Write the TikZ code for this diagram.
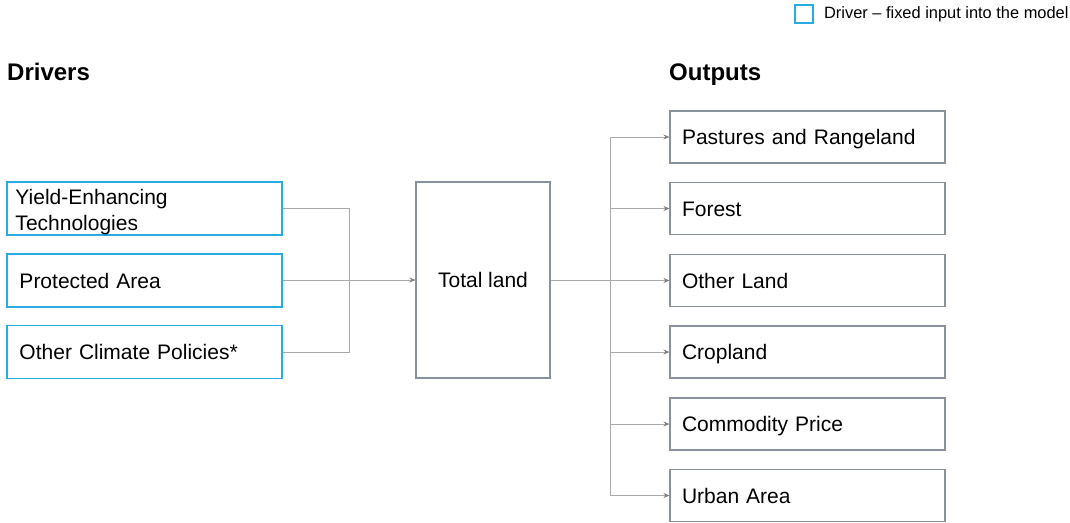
\documentclass[tikz,border=0pt]{standalone}
\usepackage{fontspec}
\setmainfont{Liberation Sans}
\usetikzlibrary{positioning,arrows.meta}

\definecolor{driverblue}{RGB}{41,171,226}
\definecolor{boxgray}{RGB}{135,146,156}
\definecolor{linegray}{RGB}{170,170,170}

\begin{document}
\begin{tikzpicture}[
x=1pt, y=-1pt,
font=\fontsize{21}{26}\selectfont,
driver_box/.style={rectangle, draw=driverblue, fill=white, line width=1.2pt, minimum width=275pt, minimum height=53pt, text width=250pt, text height=15pt, text depth=0pt, align=left, inner sep=0pt},
out_box/.style={rectangle, draw=boxgray, fill=white, line width=1.1pt, minimum width=275pt, minimum height=52pt, text width=251pt, text height=15pt, text depth=0pt, align=left, inner sep=0pt},
total_box/.style={rectangle, draw=boxgray, fill=white, line width=1.1pt, minimum width=134pt, minimum height=196pt, inner sep=0pt},
plain_line/.style={draw=linegray, line width=0.9pt},
out_arrow/.style={draw=linegray, line width=0.9pt, -{Stealth[length=6pt, width=5pt, color=gray]}},
head_text/.style={anchor=base west, inner sep=0pt, font=\fontsize{24}{28}\selectfont\bfseries}
]
\useasboundingbox (0,0) rectangle (1070,522);

% legend
\node[rectangle, draw=driverblue, line width=1.2pt, minimum size=18pt, inner sep=0pt](legend_box) at (804,14) {};
\node[anchor=west, font=\fontsize{16.4}{19}\selectfont](legend_text)[right=7pt of legend_box]{Driver -- fixed input into the model};

% headers
\node[head_text](drivers_head) at (7,80) {Drivers};
\node[head_text](outputs_head) at (669,80) {Outputs};

% drivers
\node[driver_box, text height=17pt, text depth=26pt](yield) at (144.5,208.5) {\hspace{-4pt}Yield-Enhancing\\\hspace{-4pt}Technologies};
\node[driver_box](protected) at (144.5,280.5) {Protected Area};
\node[driver_box](climate) at (144.5,352) {Other Climate Policies*};

% model
\node[total_box](total) at (483,280) {Total land};

% outputs
\node[out_box](pasture) at (807.5,137) {Pastures and Rangeland};
\node[out_box](forest) at (807.5,208.5) {Forest};
\node[out_box](other) at (807.5,280.5) {Other Land};
\node[out_box](crop) at (807.5,352) {Cropland};
\node[out_box](price) at (807.5,424) {Commodity Price};
\node[out_box](urban) at (807.5,495.5) {Urban Area};

% connectors
\coordinate (merge) at (349,280);
\coordinate (split) at (610,280);
\draw[plain_line](yield.east) -| (merge);
\draw[plain_line](climate.east) -| (merge);
\draw[out_arrow](protected.east |- total.west) -- (total.west);
\draw[plain_line](total.east) -- (split);
\foreach \n in {pasture, forest, other, crop, price, urban}
  \draw[out_arrow](split) |- (\n.west);
\end{tikzpicture}
\end{document}
